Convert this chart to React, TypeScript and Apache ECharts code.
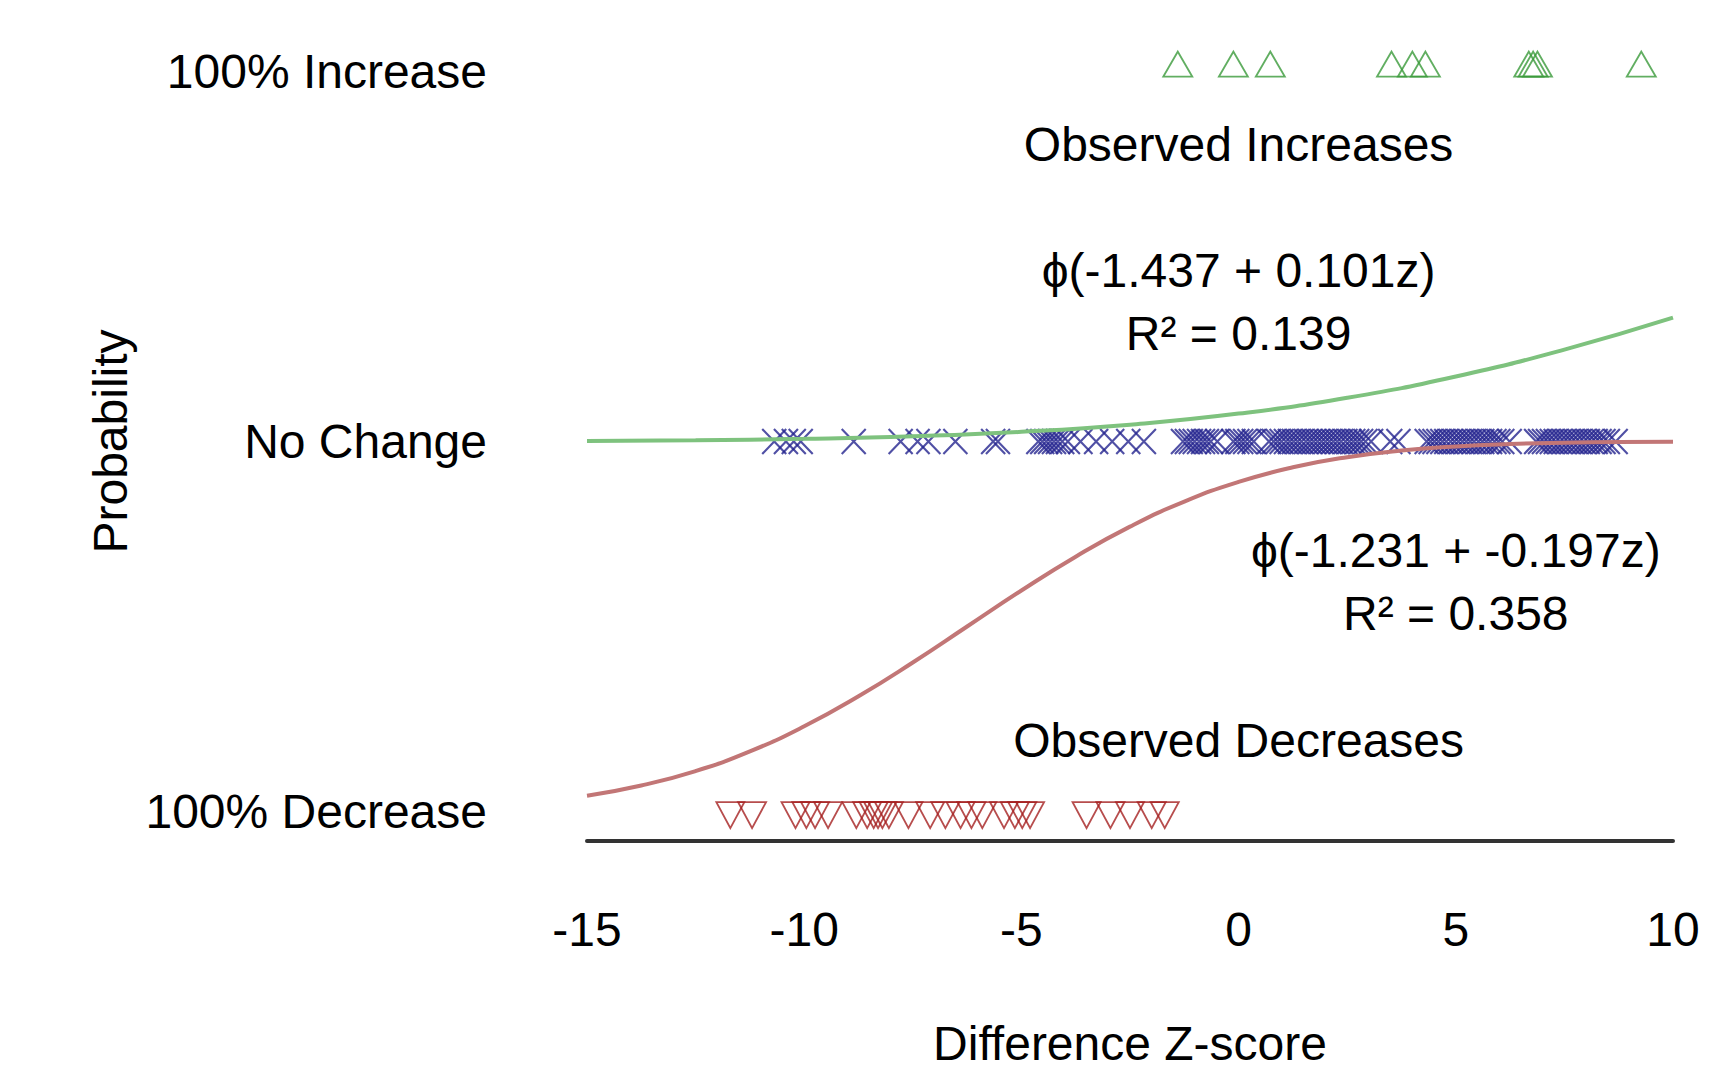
import React, { useEffect, useRef } from "react";
import * as echarts from "echarts";

// ---- data ----
const xTicks = [-15, -10, -5, 0, 5, 10];
const yCategoryValues = [-1, 0, 1];
const yCategoryLabels = ["100% Decrease", "No Change", "100% Increase"];

// observed increases (z-scores), plotted at probability level 1
const increases = [-1.4, -0.12, 0.73, 3.52, 4.0, 4.3, 6.68, 6.78, 6.88, 9.27];
const increaseLevel = 1.02;

// observed no-change cases (z-scores), plotted at 0
const noChange = [
  -10.69, -10.42, -10.24, -10.08, -8.86, -7.78, -7.39, -7.14, -6.52, -5.65, -5.54,
  -4.61, -4.52, -4.43, -4.34, -4.25, -4.16, -4.06, -3.93, -3.64, -3.28, -2.91, -2.54, -2.18,
  -1.28, -1.19, -1.1, -1.01, -0.91, -0.82, -0.73, -0.64, -0.49, -0.12, -0.03, 0.06, 0.15,
  0.25, 0.35, 0.7, 0.81, 0.9, 0.99, 1.09, 1.18, 1.27, 1.36, 1.45, 1.55, 1.64, 1.73, 1.82,
  1.91, 2.0, 2.09, 2.18, 2.27, 2.36, 2.46, 2.55, 2.64, 2.73, 2.82, 2.92, 3.05, 3.49, 3.68,
  4.33, 4.42, 4.51, 4.6, 4.69, 4.78, 4.88, 4.97, 5.06, 5.15, 5.24, 5.33, 5.42, 5.52, 5.61,
  5.7, 5.79, 5.89, 5.98, 6.07, 6.24, 6.85, 6.94, 7.03, 7.12, 7.21, 7.3, 7.4, 7.49, 7.58,
  7.67, 7.76, 7.85, 7.95, 8.04, 8.13, 8.22, 8.31, 8.4, 8.5, 8.68,
];

// observed decreases (z-scores), plotted at -1
const decreases = [
  -11.7, -11.2, -10.2, -9.95, -9.75, -9.45, -8.8, -8.55, -8.4, -8.3, -8.2, -8.05, -7.6,
  -7.1, -6.75, -6.4, -6.15, -5.9, -5.4, -5.15, -4.98, -4.8, -3.5, -2.95, -2.5, -2.0, -1.7,
];
const decreaseLevel = -1.01;

// fitted increase curve phi(-1.437 + 0.101z), read at sample z values
const curveZ = [-15, -12.5, -10, -7.5, -5, -2.5, 0, 2.5, 5, 7.5, 10];
const increaseCurve = [0.0016, 0.0035, 0.0072, 0.0141, 0.0261, 0.0456, 0.0754, 0.1181, 0.1757, 0.2484, 0.3347];

// fitted decrease curve -phi(-1.231 - 0.197z)
const decreaseZ = [
  -15, -13.75, -12.5, -11.25, -10, -8.75, -7.5, -6.25, -5, -3.75, -2.5, -1.25, 0, 1.25, 2.5,
  3.75, 5, 6.25, 7.5, 8.75, 10,
];
const decreaseCurve = [
  -0.9576, -0.93, -0.8909, -0.8378, -0.77, -0.6889, -0.5974, -0.5001, -0.4028, -0.3113,
  -0.2301, -0.1624, -0.1092, -0.0698, -0.0424, -0.0244, -0.0133, -0.0069, -0.0034, -0.0016,
  -0.0007,
];

// annotations [z, probability, text]
const annotations: [number, number, string][] = [
  [0, 0.802, "Observed Increases"],
  [0, 0.375, "ϕ(-1.437 + 0.101z)\nR² = 0.139"],
  [5, -0.381, "ϕ(-1.231 + -0.197z)\nR² = 0.358"],
  [0, -0.81, "Observed Decreases"],
];

const FONT = "'Liberation Sans', Arial, Helvetica, sans-serif";
const FS = 48;
const CROSS = "path://M0,0L10,10M10,0L0,10";

export default function App() {
  const ref = useRef<HTMLDivElement>(null);
  useEffect(() => {
    if (!ref.current) return;
    const chart = echarts.init(ref.current, null, { renderer: "svg" });
    const option: any = {
      animation: false,
      backgroundColor: "#ffffff",
      textStyle: { fontFamily: FONT },
      grid: { left: 587, right: 63, top: 42, bottom: 212 },
      xAxis: {
        type: "value",
        min: xTicks[0],
        max: xTicks[xTicks.length - 1],
        interval: 5,
        axisLine: { show: true, onZero: false, lineStyle: { color: "#333333", width: 4 } },
        axisTick: { show: false },
        splitLine: { show: false },
        axisLabel: { fontSize: FS, color: "#000000", margin: 64, fontFamily: FONT },
        name: "Difference Z-score",
        nameLocation: "middle",
        nameGap: 178,
        nameTextStyle: { fontSize: FS, color: "#000000", fontFamily: FONT },
      },
      yAxis: {
        type: "value",
        min: -1.08,
        max: 1.08,
        axisLine: { show: false, onZero: false },
        axisTick: { show: false },
        splitLine: { show: false },
        axisLabel: {
          customValues: yCategoryValues,
          formatter: (v: number) => {
            const i = yCategoryValues.findIndex((c) => Math.abs(c - v) < 1e-6);
            return i >= 0 ? yCategoryLabels[i] : "";
          },
          fontSize: FS,
          color: "#000000",
          margin: 100,
          fontFamily: FONT,
        },
        name: "Probability",
        nameLocation: "middle",
        nameGap: 450,
        nameRotate: 90,
        nameTextStyle: { fontSize: FS, color: "#000000", fontFamily: FONT },
      },
      series: [
        {
          type: "line",
          name: "increase fit",
          data: curveZ.map((z, i) => [z, increaseCurve[i]]),
          smooth: true,
          showSymbol: false,
          symbol: "none",
          lineStyle: { color: "#7ec27e", width: 4 },
          silent: true,
        },
        {
          type: "line",
          name: "decrease fit",
          data: decreaseZ.map((z, i) => [z, decreaseCurve[i]]),
          smooth: true,
          showSymbol: false,
          symbol: "none",
          lineStyle: { color: "#c27676", width: 4 },
          silent: true,
        },
        {
          type: "scatter",
          name: "no change",
          data: noChange.map((z) => [z, 0]),
          symbol: CROSS,
          symbolSize: [24, 25],
          itemStyle: { color: "transparent", borderColor: "#24248f", borderWidth: 2.2 },
          silent: true,
        },
        {
          type: "scatter",
          name: "increases",
          data: increases.map((z) => [z, increaseLevel]),
          symbol: "triangle",
          symbolSize: [29, 25],
          itemStyle: { color: "transparent", borderColor: "#399a39", borderWidth: 1.8 },
          silent: true,
        },
        {
          type: "scatter",
          name: "decreases",
          data: decreases.map((z) => [z, decreaseLevel]),
          symbol: "triangle",
          symbolRotate: 180,
          symbolSize: [28, 26],
          itemStyle: { color: "transparent", borderColor: "#a52020", borderWidth: 1.8 },
          silent: true,
        },
        {
          type: "scatter",
          name: "annotations",
          data: annotations.map((a) => ({ value: [a[0], a[1]], text: a[2] })),
          symbolSize: 1,
          itemStyle: { color: "#ffffff", opacity: 0 },
          silent: true,
          label: {
            show: true,
            position: "top",
            distance: 0,
            formatter: (p: any) => p.data.text,
            fontSize: FS,
            lineHeight: 63,
            color: "#000000",
            opacity: 1,
            textBorderWidth: 0,
            fontFamily: FONT,
            align: "center",
            verticalAlign: "middle",
          },
        },
      ],
    };
    chart.setOption(option);
    return () => chart.dispose();
  }, []);
  return (
    <div
      ref={ref}
      style={{ position: "fixed", left: 0, top: 0, width: 1736, height: 1072, background: "#fff" }}
    />
  );
}
